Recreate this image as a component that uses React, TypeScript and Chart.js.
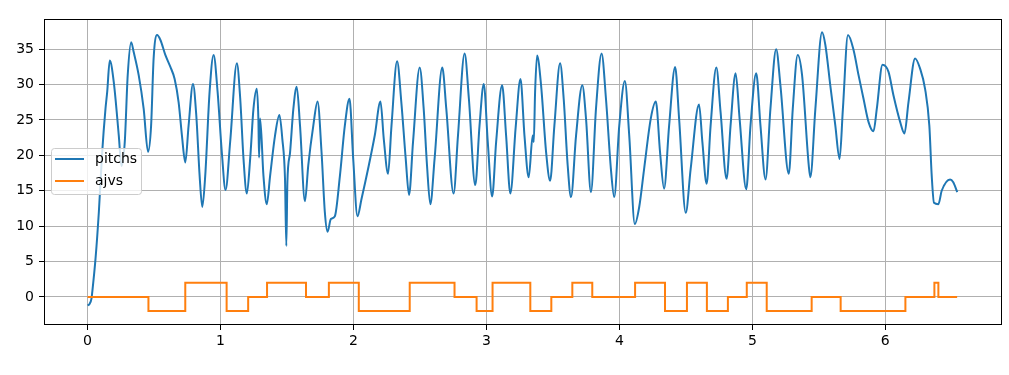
import React, { useEffect, useRef } from 'react';
import { Chart, registerables } from 'chart.js';

Chart.register(...registerables);

const FONT = "'DejaVu Sans', sans-serif";

const xTicks = [0, 1, 2, 3, 4, 5, 6];
const yTicks = [0, 5, 10, 15, 20, 25, 30, 35];

const pitchX = [
  0.000, 0.015, 0.030, 0.035, 0.060, 0.085, 0.110, 0.135, 0.148, 0.167, 0.197, 0.235, 0.255, 0.280, 0.302, 0.328,
  0.347, 0.385, 0.422, 0.455, 0.478, 0.497, 0.523, 0.548, 0.585, 0.623, 0.655, 0.685, 0.710, 0.735, 0.760, 0.793,
  0.818, 0.843, 0.863, 0.885, 0.918, 0.948, 0.978, 1.010, 1.038, 1.073, 1.123, 1.148, 1.173, 1.198, 1.223, 1.248,
  1.273, 1.285, 1.290, 1.298, 1.323, 1.348, 1.373, 1.410, 1.443, 1.465, 1.485, 1.495, 1.503, 1.523, 1.548, 1.573,
  1.598, 1.635, 1.660, 1.698, 1.730, 1.760, 1.785, 1.805, 1.830, 1.860, 1.898, 1.935, 1.970, 1.998, 2.030, 2.060,
  2.110, 2.160, 2.203, 2.228, 2.260, 2.286, 2.328, 2.360, 2.393, 2.418, 2.448, 2.498, 2.528, 2.553, 2.578, 2.610,
  2.668, 2.698, 2.753, 2.786, 2.836, 2.868, 2.916, 2.948, 2.980, 3.010, 3.043, 3.073, 3.118, 3.148, 3.180, 3.220,
  3.256, 3.286, 3.318, 3.348, 3.356, 3.366, 3.381, 3.411, 3.449, 3.479, 3.511, 3.554, 3.581, 3.611, 3.636, 3.674,
  3.721, 3.749, 3.786, 3.824, 3.866, 3.899, 3.936, 3.961, 3.999, 4.041, 4.074, 4.116, 4.149, 4.186, 4.236, 4.274,
  4.306, 4.336, 4.374, 4.419, 4.449, 4.499, 4.536, 4.599, 4.624, 4.656, 4.686, 4.729, 4.761, 4.806, 4.836, 4.874,
  4.904, 4.954, 4.986, 5.029, 5.061, 5.099, 5.136, 5.179, 5.211, 5.274, 5.304, 5.341, 5.374, 5.424, 5.436, 5.474,
  5.524, 5.549, 5.586, 5.624, 5.656, 5.681, 5.719, 5.761, 5.799, 5.836, 5.874, 5.911, 5.936, 5.979, 6.024, 6.061,
  6.112, 6.144, 6.174, 6.224, 6.261, 6.299, 6.331, 6.349, 6.366, 6.399, 6.424, 6.487, 6.511, 6.541,
];

const pitchY = [
  -1.2, -1.0, -0.2, 0.6, 5.4, 12.0, 20.4, 26.6, 29.0, 33.4, 30.4, 22.8, 18.5, 21.9, 31.3, 36.0,
  34.6, 31.3, 26.6, 20.5, 24.2, 33.7, 37.0, 36.3, 34.2, 32.5, 30.8, 27.5, 22.8, 19.0, 24.2, 30.1,
  25.6, 17.1, 12.7, 17.1, 29.0, 34.2, 29.0, 20.4, 15.1, 22.0, 33.0, 28.1, 19.5, 14.6, 19.5, 26.6,
  29.4, 25.0, 19.7, 25.2, 17.1, 13.1, 17.1, 22.8, 25.7, 22.3, 16.7, 7.2, 16.2, 20.4, 26.6, 29.7,
  24.2, 13.5, 18.6, 24.2, 27.6, 20.4, 11.9, 9.2, 11.0, 11.4, 17.1, 24.2, 28.0, 19.5, 11.4, 13.8,
  18.1, 22.8, 27.6, 22.3, 17.4, 24.2, 33.3, 27.5, 19.5, 14.4, 21.9, 32.4, 26.6, 18.6, 13.1, 19.5,
  32.4, 26.6, 14.6, 22.8, 34.4, 28.0, 15.8, 24.2, 30.1, 21.9, 14.2, 21.9, 29.9, 22.8, 14.6, 24.0,
  30.8, 22.8, 16.9, 22.8, 21.9, 29.0, 34.1, 29.9, 20.4, 16.4, 24.2, 33.0, 28.0, 18.6, 14.1, 22.8,
  29.9, 25.2, 14.8, 26.6, 34.4, 28.0, 18.1, 14.1, 24.2, 30.5, 22.8, 10.3, 12.7, 18.1, 25.2, 27.6,
  20.4, 15.3, 24.2, 32.5, 25.2, 11.9, 18.1, 27.2, 21.9, 16.0, 24.2, 32.4, 26.1, 16.7, 24.2, 31.6,
  25.2, 15.2, 24.2, 31.6, 24.2, 16.6, 26.6, 35.0, 29.9, 17.4, 26.6, 34.2, 31.3, 18.6, 16.9, 26.6,
  37.4, 35.6, 29.9, 24.2, 19.5, 26.6, 37.0, 34.9, 31.3, 28.0, 24.7, 23.4, 26.6, 32.8, 31.8, 28.5,
  24.7, 23.1, 27.5, 33.7, 32.3, 29.4, 24.2, 17.1, 13.3, 13.1, 15.0, 16.6, 16.2, 14.8,
];

const ajvsX = [
  0, 0.458, 0.735, 1.046, 1.208, 1.35, 1.643, 1.815, 2.04, 2.423, 2.76, 2.926, 3.046, 3.33, 3.488,
  3.646, 3.796, 4.118, 4.343, 4.508, 4.658, 4.816, 4.958, 5.108, 5.446, 5.664, 6.151, 6.369, 6.399, 6.54,
];
const ajvsY = [
  0, -2, 2, -2, 0, 2, 0, 2, -2, 2, 0, -2, 2, -2, 0,
  2, 0, 2, -2, 2, -2, 0, 2, -2, 0, -2, 0, 2, 0, 0,
];

const seriesNames = ['pitchs', 'ajvs'];
const seriesColors = ['#1f77b4', '#ff7f0e'];

const framePlugin = {
  id: 'frameAndLegend',
  afterDatasetsDraw(chart: any) {
    const { ctx, chartArea } = chart;
    const { left, top, right, bottom } = chartArea;
    ctx.save();
    ctx.strokeStyle = '#000';
    ctx.lineWidth = 1;
    ctx.strokeRect(Math.round(left) + 0.5, Math.round(top) + 0.5, Math.round(right - left) - 1, Math.round(bottom - top) - 1);

    // legend (matplotlib-like)
    const bx = 51.5, by = 148.5, bw = 90, bh = 46, r = 3;
    ctx.beginPath();
    ctx.moveTo(bx + r, by);
    ctx.lineTo(bx + bw - r, by);
    ctx.arcTo(bx + bw, by, bx + bw, by + r, r);
    ctx.lineTo(bx + bw, by + bh - r);
    ctx.arcTo(bx + bw, by + bh, bx + bw - r, by + bh, r);
    ctx.lineTo(bx + r, by + bh);
    ctx.arcTo(bx, by + bh, bx, by + bh - r, r);
    ctx.lineTo(bx, by + r);
    ctx.arcTo(bx, by, bx + r, by, r);
    ctx.closePath();
    ctx.fillStyle = 'rgba(255,255,255,0.8)';
    ctx.fill();
    ctx.strokeStyle = '#cccccc';
    ctx.lineWidth = 1;
    ctx.stroke();

    const rows = [159, 181];
    ctx.font = `14px ${FONT}`;
    ctx.textBaseline = 'middle';
    ctx.textAlign = 'left';
    seriesNames.forEach((name, i) => {
      ctx.beginPath();
      ctx.strokeStyle = seriesColors[i];
      ctx.lineWidth = 2;
      ctx.moveTo(55, rows[i]);
      ctx.lineTo(84, rows[i]);
      ctx.stroke();
      ctx.fillStyle = '#000';
      ctx.fillText(name, 95, rows[i]);
    });
    ctx.restore();
  },
};

export default function App() {
  const ref = useRef<HTMLCanvasElement | null>(null);

  useEffect(() => {
    document.body.style.margin = '0';
    const canvas = ref.current;
    if (!canvas) return;
    const chart = new Chart(canvas, {
      type: 'line',
      data: {
        datasets: [
          {
            label: seriesNames[0],
            data: pitchX.map((x, i) => ({ x, y: pitchY[i] })),
            borderColor: seriesColors[0],
            backgroundColor: seriesColors[0],
            borderWidth: 2,
            pointRadius: 0,
            cubicInterpolationMode: 'monotone',
            fill: false,
            order: 1,
          },
          {
            label: seriesNames[1],
            data: ajvsX.map((x, i) => ({ x, y: ajvsY[i] })),
            borderColor: seriesColors[1],
            backgroundColor: seriesColors[1],
            borderWidth: 2,
            pointRadius: 0,
            stepped: 'before',
            fill: false,
            order: 0,
          },
        ],
      },
      options: {
        responsive: false,
        animation: false,
        devicePixelRatio: 1,
        layout: { padding: { left: 0, right: 7, top: 19, bottom: 0 } },
        plugins: {
          legend: { display: false },
          tooltip: { enabled: false },
          title: { display: false },
        },
        scales: {
          x: {
            type: 'linear',
            min: -0.3275,
            max: 6.8775,
            afterBuildTicks: (s: any) => {
              s.ticks = xTicks.map((v) => ({ value: v }));
            },
            afterFit: (s: any) => {
              s.height = 50;
            },
            ticks: {
              color: '#000',
              font: { family: FONT, size: 14 },
              padding: 3,
              maxRotation: 0,
              callback: (v: any) => String(v),
            },
            grid: { color: '#b0b0b0', lineWidth: 1, tickColor: '#000', tickLength: 5 },
            border: { display: false },
          },
          y: {
            type: 'linear',
            min: -3.97,
            max: 39.27,
            afterBuildTicks: (s: any) => {
              s.ticks = yTicks.map((v) => ({ value: v }));
            },
            afterFit: (s: any) => {
              s.width = 44;
            },
            ticks: {
              color: '#000',
              font: { family: FONT, size: 14 },
              padding: 5,
              callback: (v: any) => String(v),
            },
            grid: { color: '#b0b0b0', lineWidth: 1, tickColor: '#000', tickLength: 5 },
            border: { display: false },
          },
        },
      },
      plugins: [framePlugin],
    });
    return () => chart.destroy();
  }, []);

  return (
    <div style={{ width: 1009, height: 375, background: '#fff' }}>
      <canvas ref={ref} width={1009} height={375} style={{ display: 'block', width: 1009, height: 375 }} />
    </div>
  );
}
